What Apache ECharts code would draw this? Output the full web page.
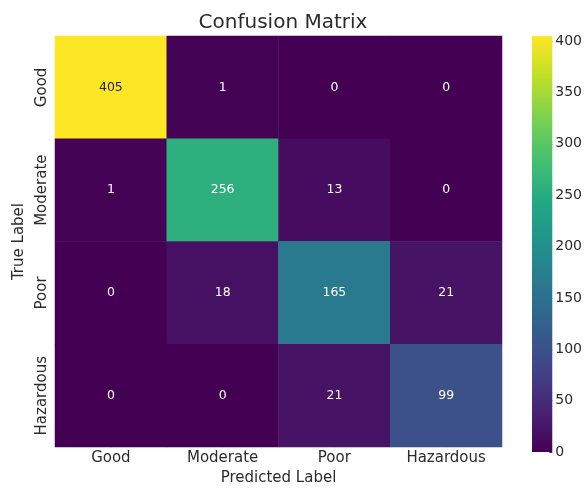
<!DOCTYPE html>
<html>
<head>
<meta charset="utf-8">
<script src="https://cdn.jsdelivr.net/npm/echarts@6/dist/echarts.min.js"></script>
<style>
  html, body { margin: 0; padding: 0; background: #fff; }
  #chart { width: 585px; height: 491px; }
</style>
</head>
<body>
<div id="chart"></div>
<script>
// Class labels (rows = true label, columns = predicted label)
const classes = ['Good', 'Moderate', 'Poor', 'Hazardous'];

// Confusion matrix counts, one array per true class
const rowGood      = [405, 1, 0, 0];
const rowModerate  = [1, 256, 13, 0];
const rowPoor      = [0, 18, 165, 21];
const rowHazardous = [0, 0, 21, 99];
const matrix = [rowGood, rowModerate, rowPoor, rowHazardous];

// Colour bar range and ticks
const colorMin = 0;
const colorMax = 405;
const colorTickStep = 50;

// Viridis colour ramp
const viridis = ['#440154', '#482475', '#414487', '#355f8d', '#2a788e',
                 '#21918c', '#22a884', '#44bf70', '#7ad151', '#bddf26', '#fde725'];

const textFont = '"DejaVu Sans", sans-serif';
const textColor = '#2b2b2b';

const cells = [];
matrix.forEach((row, r) => {
  row.forEach((v, c) => {
    cells.push({
      value: [c, r, v],
      label: { color: v > 0.8 * colorMax ? '#262626' : '#ffffff' }
    });
  });
});

const gradientStops = viridis.map((col, i) => ({
  offset: 1 - i / (viridis.length - 1),
  color: col
}));

const chart = echarts.init(document.getElementById('chart'), null, { renderer: 'canvas' });

chart.setOption({
  backgroundColor: '#ffffff',
  animation: false,
  title: {
    text: 'Confusion Matrix',
    left: 278,
    top: 8,
    textAlign: 'center',
    textStyle: { fontFamily: textFont, fontSize: 20, fontWeight: 'normal', color: textColor }
  },
  grid: [
    { left: 55, right: 83, top: 36, bottom: 39 },
    { left: 532, width: 21, top: 36, bottom: 39 }
  ],
  xAxis: [
    {
      type: 'category',
      gridIndex: 0,
      data: classes,
      name: 'Predicted Label',
      nameLocation: 'middle',
      nameGap: 23,
      nameTextStyle: { fontFamily: textFont, fontSize: 15, color: textColor, verticalAlign: 'top' },
      axisLine: { show: false },
      axisTick: { show: true, alignWithLabel: true, inside: true, length: 3, lineStyle: { color: '#333' } },
      axisLabel: { fontFamily: textFont, fontSize: 15, color: textColor, margin: 4, interval: 0 },
      splitLine: { show: false }
    },
    {
      type: 'category',
      gridIndex: 1,
      data: [''],
      axisLine: { show: false },
      axisTick: { show: false },
      axisLabel: { show: false }
    }
  ],
  yAxis: [
    {
      type: 'category',
      gridIndex: 0,
      data: classes,
      inverse: true,
      name: 'True Label',
      nameLocation: 'middle',
      nameGap: 27,
      nameRotate: 90,
      nameTextStyle: { fontFamily: textFont, fontSize: 15, color: textColor },
      axisLine: { show: false },
      axisTick: { show: true, alignWithLabel: true, inside: true, length: 3, lineStyle: { color: '#333' } },
      axisLabel: { fontFamily: textFont, fontSize: 15, color: textColor, rotate: 90, margin: 5, interval: 0 },
      splitLine: { show: false }
    },
    {
      type: 'value',
      gridIndex: 1,
      position: 'right',
      min: colorMin,
      max: colorMax,
      interval: colorTickStep,
      axisLine: { show: false },
      axisTick: { show: true, inside: true, length: 3, lineStyle: { color: '#333' } },
      axisLabel: {
        fontFamily: textFont, fontSize: 14, color: textColor, margin: 3,
        showMaxLabel: false
      },
      splitLine: { show: false }
    }
  ],
  visualMap: {
    show: false,
    type: 'continuous',
    min: colorMin,
    max: colorMax,
    dimension: 2,
    seriesIndex: 0,
    inRange: { color: viridis }
  },
  series: [
    {
      type: 'heatmap',
      xAxisIndex: 0,
      yAxisIndex: 0,
      data: cells,
      label: {
        show: true,
        fontFamily: textFont,
        fontSize: 12.5,
        formatter: p => String(p.value[2])
      },
      emphasis: { disabled: true }
    },
    {
      // colour bar
      type: 'bar',
      xAxisIndex: 1,
      yAxisIndex: 1,
      data: [colorMax],
      barWidth: '100%',
      silent: true,
      itemStyle: {
        color: { type: 'linear', x: 0, y: 0, x2: 0, y2: 1, colorStops: gradientStops }
      }
    }
  ]
});
</script>
</body>
</html>
